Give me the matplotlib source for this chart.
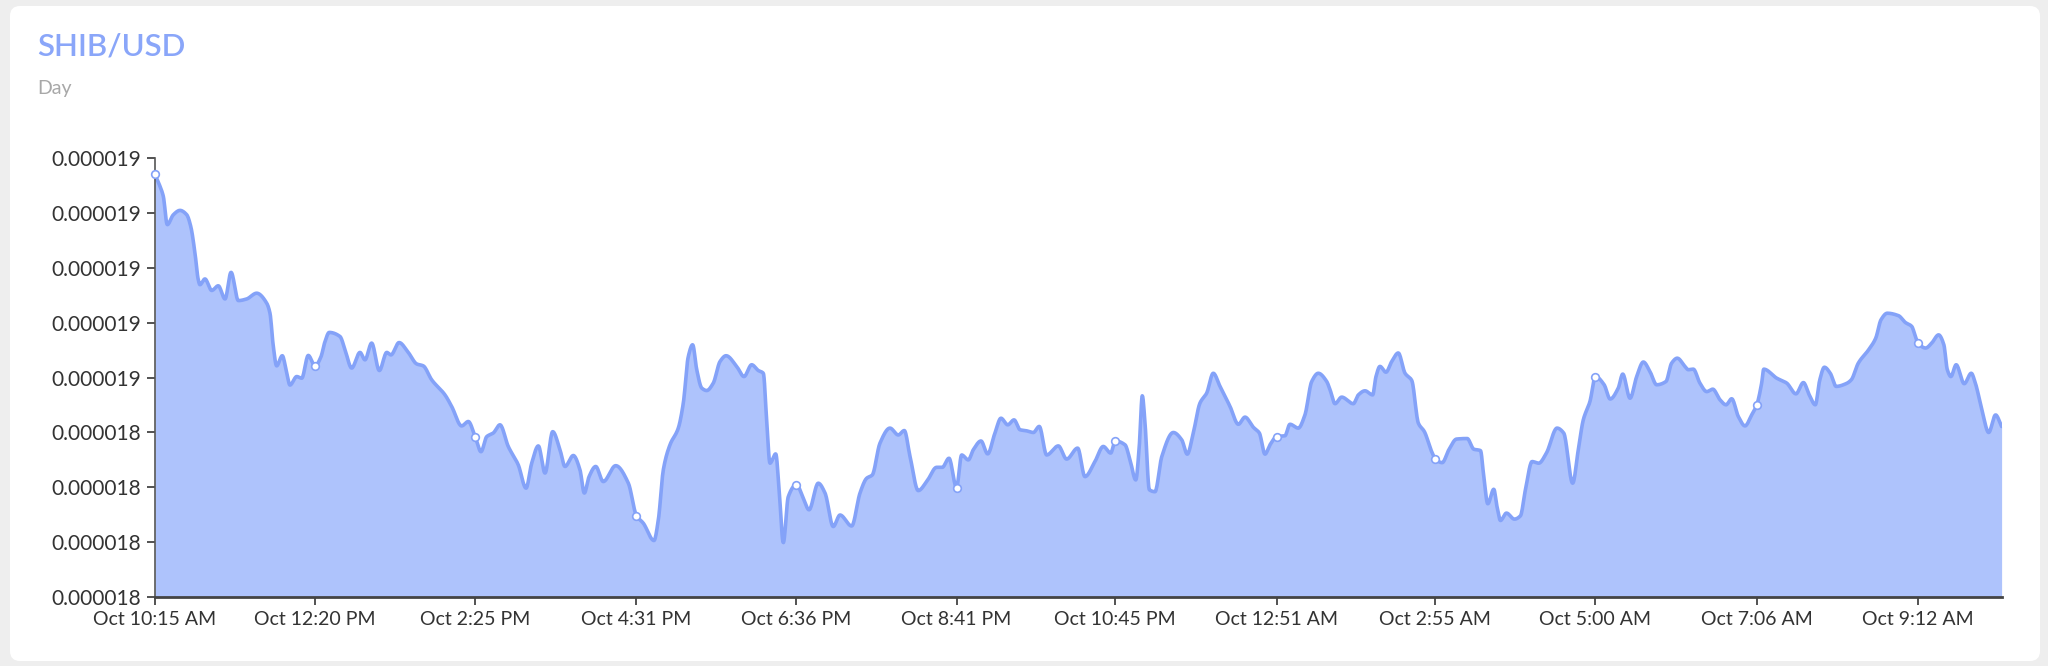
import numpy as np
import matplotlib
matplotlib.use("Agg")
import matplotlib.pyplot as plt
import matplotlib.transforms as mtransforms
from matplotlib.patches import FancyBboxPatch
from matplotlib.ticker import FuncFormatter

plt.rcParams['font.family'] = ['Lato', 'DejaVu Sans']

# minutes after Oct 10:15 AM, price in micro-USD (x 1e-6)
minutes = [
    0, 3.4, 6.5, 9.6, 14.3, 19.5, 24.8, 27.9, 31.2, 33.8, 35.1, 39.0, 44.3, 49.4, 54.7, 59.4,
    65.1, 71.6, 79.4, 87.2, 89.8, 92.4, 95.0, 99.4, 102.9, 105.4, 110.7, 114.6, 119.7, 125,
    129.7, 132.4, 136.1, 144.5, 148.4, 153.6, 160.1, 164.0, 169.2, 175.2, 181.0, 184.3, 190.6,
    197.8, 204.4, 209.5, 216.1, 226.5, 231.7, 239.5, 244.7, 250, 254.6, 259.1, 264.2, 269.4,
    275.9, 283.7, 289.8, 294.2, 299.4, 304.6, 310.6, 316.3, 320.2, 326.7, 331.9, 335.3, 339.0,
    344.2, 350.1, 359.8, 369.7, 376, 381.4, 389.7, 393.1, 397.0, 402.2, 408.7, 412.6, 416.5,
    419.9, 423.1, 427.0, 430.9, 436.0, 441.3, 446.0, 454.3, 460.0, 466.0, 471.2, 475.1, 477.7,
    480.3, 484.8, 487.6, 490.7, 494.6, 501, 506.3, 510.8, 518.0, 523.3, 529.7, 535.0, 544.1,
    550.6, 555.8, 560.2, 566.2, 574.0, 580.5, 585.2, 589.7, 596.1, 602.7, 610.5, 614.9, 620.1,
    626, 630.0, 635.2, 639.1, 645.1, 650.3, 656.0, 660.7, 666.0, 670.9, 675.6, 680.8, 686.0,
    690.6, 696.4, 705.5, 712.0, 720.6, 726.3, 734.1, 740.6, 746.4, 750, 757.6, 761.5, 766.0,
    768.7, 771.1, 773.2, 776.6, 781.0, 786.3, 795.3, 801.9, 806.2, 810.9, 816.1, 821.4, 826.5,
    831.8, 839.6, 846.1, 851.3, 857.8, 862.5, 866.9, 870.8, 876, 882.5, 886.4, 892.9, 898.1,
    903.4, 908.5, 915.1, 917.7, 921.6, 926.8, 935.9, 939.8, 945.0, 951.0, 953.6, 956.7, 961.4,
    965.9, 971.0, 976.3, 981.5, 986.7, 991.4, 997.1, 1000, 1005.3, 1010.5, 1016.5, 1024.8,
    1030.0, 1035.2, 1037.8, 1040.9, 1045.6, 1048.1, 1050.8, 1055.5, 1061.7, 1066.4, 1070.3,
    1075.5, 1080.7, 1086.7, 1095.0, 1100.2, 1107.2, 1111.6, 1115.5, 1120.7, 1125, 1131.8,
    1136.5, 1142.8, 1146.3, 1152.0, 1157.2, 1162.4, 1167.6, 1172.8, 1180.1, 1184.5, 1188.9,
    1194.9, 1197.5, 1201.4, 1206.6, 1211.9, 1216.6, 1222.3, 1227.0, 1231.4, 1236.6, 1241.8,
    1247.0, 1251, 1254.8, 1256.4, 1266.6, 1274.4, 1281.6, 1287.4, 1292.0, 1296.7, 1300.2,
    1303.8, 1308.4, 1313.0, 1320.7, 1324.8, 1330.3, 1338.4, 1343.9, 1348.0, 1352.9, 1361.7,
    1367.1, 1372.0, 1375.3, 1377, 1382.9, 1387.6, 1393.0, 1397.1, 1399.8, 1402.6, 1406.7,
    1413.0, 1418.5, 1421.7, 1427.1, 1432.1, 1437.5, 1442.2,
]
price_micro = [
    18.5791, 18.5754, 18.5711, 18.5608, 18.5644, 18.5660, 18.5644, 18.5602, 18.5505, 18.5407,
    18.5389, 18.5410, 18.5368, 18.5385, 18.5337, 18.5434, 18.5331, 18.5337, 18.5358, 18.5322,
    18.5285, 18.5164, 18.5093, 18.5130, 18.5066, 18.5023, 18.5054, 18.5048, 18.5131, 18.5093,
    18.5127, 18.5176, 18.5215, 18.5200, 18.5152, 18.5085, 18.5142, 18.5115, 18.5176, 18.5076,
    18.5142, 18.5133, 18.5178, 18.5142, 18.5100, 18.5093, 18.5042, 18.4987, 18.4945, 18.4874,
    18.4890, 18.4835, 18.4780, 18.4835, 18.4848, 18.4878, 18.4799, 18.4732, 18.4647, 18.4738,
    18.4801, 18.4702, 18.4853, 18.4787, 18.4726, 18.4766, 18.4714, 18.4629, 18.4689, 18.4726,
    18.4671, 18.4729, 18.4665, 18.4547, 18.4519, 18.4456, 18.4531, 18.4714, 18.4805, 18.4866,
    18.4957, 18.5127, 18.5170, 18.5079, 18.5012, 18.5003, 18.5030, 18.5109, 18.5130, 18.5091,
    18.5054, 18.5097, 18.5076, 18.5066, 18.4896, 18.4738, 18.4772, 18.4629, 18.4448, 18.4616,
    18.4660, 18.4610, 18.4568, 18.4665, 18.4629, 18.4507, 18.4549, 18.4509, 18.4629, 18.4683,
    18.4695, 18.4811, 18.4866, 18.4841, 18.4857, 18.4762, 18.4638, 18.4671, 18.4723, 18.4723,
    18.4756, 18.4649, 18.4768, 18.4750, 18.4787, 18.4819, 18.4772, 18.4848, 18.4902, 18.4878,
    18.4896, 18.4860, 18.4856, 18.4850, 18.4872, 18.4768, 18.4801, 18.4753, 18.4793, 18.4689,
    18.4744, 18.4799, 18.4775, 18.4819, 18.4805, 18.4750, 18.4677, 18.4799, 18.4984, 18.4884,
    18.4641, 18.4634, 18.4762, 18.4850, 18.4823, 18.4771, 18.4848, 18.4957, 18.4994, 18.5066,
    18.5018, 18.4945, 18.4880, 18.4906, 18.4869, 18.4848, 18.4771, 18.4805, 18.4835, 18.4838,
    18.4880, 18.4866, 18.4914, 18.5036, 18.5066, 18.5036, 18.5006, 18.4955, 18.4979, 18.4955,
    18.4987, 18.5002, 18.4987, 18.5054, 18.5091, 18.5070, 18.5109, 18.5140, 18.5066, 18.5040,
    18.4884, 18.4853, 18.4780, 18.4753, 18.4740, 18.4787, 18.4826, 18.4828, 18.4789, 18.4784,
    18.4689, 18.4590, 18.4643, 18.4580, 18.4529, 18.4556, 18.4534, 18.4546, 18.4641, 18.4744,
    18.4738, 18.4775, 18.4866, 18.4848, 18.4665, 18.4787, 18.4896, 18.4963, 18.5054, 18.5024,
    18.4972, 18.5012, 18.5063, 18.4975, 18.5054, 18.5107, 18.5072, 18.5024, 18.5036, 18.5103,
    18.5121, 18.5091, 18.5079, 18.5081, 18.5030, 18.4999, 18.5008, 18.4969, 18.4951, 18.4973,
    18.4908, 18.4874, 18.4914, 18.4951, 18.5030, 18.5081, 18.5048, 18.5030, 18.4991, 18.5032,
    18.4987, 18.4951, 18.5042, 18.5088, 18.5066, 18.5018, 18.5028, 18.5042, 18.5103, 18.5152,
    18.5194, 18.5261, 18.5285, 18.5276, 18.5251, 18.5237, 18.5194, 18.5176, 18.5158, 18.5176,
    18.5206, 18.5170, 18.5079, 18.5054, 18.5097, 18.5028, 18.5066, 18.5030, 18.4926, 18.4850,
    18.4914, 18.4872,
]

tick_minutes = [0, 125, 250, 376, 501, 626, 750, 876, 1000, 1125, 1251, 1377]
tick_labels = ["Oct 10:15 AM", "Oct 12:20 PM", "Oct 2:25 PM", "Oct 4:31 PM", "Oct 6:36 PM",
               "Oct 8:41 PM", "Oct 10:45 PM", "Oct 12:51 AM", "Oct 2:55 AM", "Oct 5:00 AM",
               "Oct 7:06 AM", "Oct 9:12 AM"]
y_ticks_micro = [18.425, 18.445, 18.465, 18.485, 18.505, 18.525, 18.545, 18.565, 18.585]

LINE = '#84a2f8'
FILL = '#aec3fc'


def monotone(x, y, n=4000):
    # monotone cubic (like d3 curveMonotoneX), just for drawing the line smooth
    x = np.asarray(x, float)
    y = np.asarray(y, float)
    h = np.diff(x)
    d = np.diff(y) / h
    m = np.zeros_like(y)
    m[0], m[-1] = d[0], d[-1]
    with np.errstate(divide='ignore', invalid='ignore'):
        w1 = 2 * h[1:] + h[:-1]
        w2 = h[1:] + 2 * h[:-1]
        inner = (w1 + w2) / (w1 / d[:-1] + w2 / d[1:])
    m[1:-1] = np.where(d[:-1] * d[1:] > 0, inner, 0.0)
    xs = np.linspace(x[0], x[-1], n)
    i = np.clip(np.searchsorted(x, xs) - 1, 0, len(h) - 1)
    t = (xs - x[i]) / h[i]
    h00 = 2 * t**3 - 3 * t**2 + 1
    h10 = t**3 - 2 * t**2 + t
    h01 = -2 * t**3 + 3 * t**2
    h11 = t**3 - t**2
    ys = h00 * y[i] + h10 * h[i] * m[i] + h01 * y[i + 1] + h11 * h[i] * m[i + 1]
    return xs, ys


t = np.array(minutes)
p = np.array(price_micro) * 1e-6
yt = np.array(y_ticks_micro) * 1e-6

fig = plt.figure(figsize=(20.48, 6.66), dpi=100)
fig.patch.set_facecolor('#eeeeee')
card = FancyBboxPatch((10, 5), 2030, 655, boxstyle="round,pad=0,rounding_size=10",
                      transform=mtransforms.IdentityTransform(),
                      facecolor='white', edgecolor='none', zorder=-1)
fig.patches.append(card)

fig.text(0.0184, 0.917, "SHIB/USD", color='#8aa6f9', fontsize=22.5, fontweight='semibold',
         va='baseline')
fig.text(0.0184, 0.859, "Day", color='#a8a8a8', fontsize=14, va='baseline')

ax = fig.add_axes([155 / 2048, 69 / 666, 1846.6 / 2048, 438.7 / 666])
ax.patch.set_visible(False)

xs, ys = monotone(t, p)
ax.fill_between(xs, ys, yt[0], color=FILL, linewidth=0)
ax.plot(xs, ys, color=LINE, linewidth=2.6, solid_capstyle='round')

mark = np.isin(t, tick_minutes)
ax.plot(t[mark], p[mark], 'o', markersize=5.5, markerfacecolor='white',
        markeredgecolor=LINE, markeredgewidth=1.2, zorder=5, clip_on=False)

ax.set_xlim(t[0], t[-1])
ax.set_ylim(yt[0], yt[-1])
ax.set_xticks(tick_minutes)
ax.set_xticklabels(tick_labels)
ax.set_yticks(yt)
ax.yaxis.set_major_formatter(FuncFormatter(lambda v, _: f"{v:.6f}"))

for s in ['top', 'right']:
    ax.spines[s].set_visible(False)
ax.spines['left'].set_color('#555555')
ax.spines['left'].set_linewidth(1.2)
ax.spines['bottom'].set_color('#444444')
ax.spines['bottom'].set_linewidth(2)
ax.tick_params(axis='both', length=6, width=1.3, color='#444444',
               labelcolor='#333333', pad=4)
ax.tick_params(axis='x', labelsize=14)
ax.tick_params(axis='y', labelsize=15)

fig.savefig('out.png', dpi=100)
